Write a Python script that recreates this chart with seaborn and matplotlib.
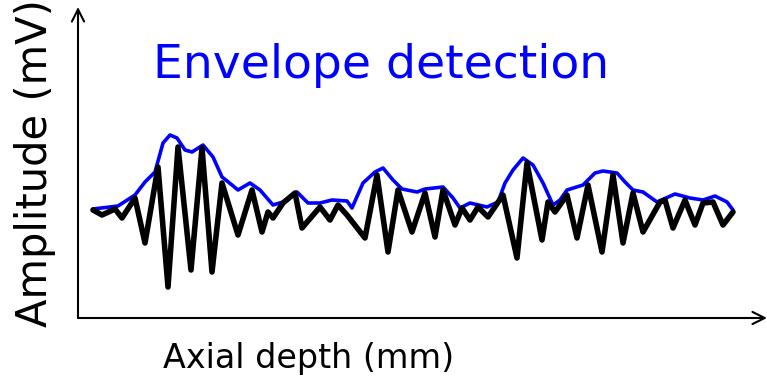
import numpy as np
import pandas as pd
import matplotlib
matplotlib.use("Agg")
import matplotlib.pyplot as plt
import seaborn as sns

# Depth (mm, arbitrary units) and amplitude (mV, arbitrary units)
signal_px_x = [93, 102, 115, 122, 135, 145, 158, 168, 178, 191, 202, 212, 222, 238, 252, 262, 268, 273,
               283, 295, 302, 320, 330, 338, 347, 365, 377, 388, 398, 412, 425, 435, 443, 455, 462, 470,
               478, 488, 503, 517, 527, 542, 548, 555, 567, 577, 588, 602, 613, 623, 633, 643, 660, 665,
               673, 685, 695, 703, 713, 723, 733]
signal_px_y = [210, 215, 209, 218, 198, 243, 167, 287, 147, 270, 148, 272, 183, 235, 190, 232, 212, 218,
               203, 193, 228, 207, 220, 205, 215, 238, 175, 252, 190, 232, 193, 237, 190, 225, 208, 220,
               207, 217, 195, 258, 163, 240, 202, 212, 195, 238, 185, 252, 175, 243, 193, 232, 202, 200,
               228, 200, 225, 203, 202, 225, 212]
env_px_x = [93, 118, 135, 145, 155, 163, 170, 177, 185, 192, 203, 213, 222, 232, 238, 250, 260, 273, 283,
            297, 308, 320, 332, 347, 352, 363, 375, 383, 393, 402, 417, 425, 443, 453, 460, 470, 487, 498,
            505, 513, 523, 533, 543, 553, 560, 567, 583, 595, 603, 617, 625, 633, 643, 657, 675, 690, 703,
            715, 727, 733]
env_px_y = [209, 206, 195, 182, 172, 143, 135, 138, 150, 152, 145, 157, 177, 185, 190, 183, 190, 205, 202,
            192, 203, 203, 200, 201, 208, 183, 172, 168, 180, 189, 192, 189, 187, 198, 208, 203, 207, 202,
            183, 170, 158, 165, 183, 205, 200, 190, 185, 173, 171, 173, 182, 190, 192, 202, 194, 198, 200,
            196, 202, 210]

depth_signal = [(v - 78) / 10 for v in signal_px_x]
amp_signal = [(318 - v) / 10 for v in signal_px_y]
depth_env = [(v - 78) / 10 for v in env_px_x]
amp_env = [(318 - v) / 10 for v in env_px_y]

title_text = "Envelope detection"
xlabel_text = "Axial depth (mm)"
ylabel_text = "Amplitude (mV)"

sns.set_style("white")
plt.rcParams['font.family'] = ['DejaVu Sans']

W, H = 767, 381
fig = plt.figure(figsize=(W / 100, H / 100), dpi=100)
ax = fig.add_axes([78 / W, 1 - 318 / H, (767 - 78) / W, (318 - 7) / H])
ax.set_xlim(0, (767 - 78) / 10)
ax.set_ylim(0, (318 - 7) / 10)

df_sig = pd.DataFrame({"depth": depth_signal, "amp": amp_signal})
df_env = pd.DataFrame({"depth": depth_env, "amp": amp_env})

sns.lineplot(data=df_env, x="depth", y="amp", ax=ax, color="#0000ff", lw=2.6,
             estimator=None, sort=False, zorder=2)
sns.lineplot(data=df_sig, x="depth", y="amp", ax=ax, color="black", lw=4.0,
             estimator=None, sort=False, zorder=3, solid_joinstyle="round")

for s in ax.spines.values():
    s.set_visible(False)
ax.set_xticks([])
ax.set_yticks([])
ax.set_xlabel("")
ax.set_ylabel("")
ax.patch.set_alpha(0)

ax.annotate("", xy=(1, 0), xytext=(0, 0), xycoords="axes fraction",
            arrowprops=dict(arrowstyle="->", lw=1.5, color="black", shrinkA=0, shrinkB=0,
                            mutation_scale=22), annotation_clip=False)
ax.annotate("", xy=(0, 1), xytext=(0, 0), xycoords="axes fraction",
            arrowprops=dict(arrowstyle="->", lw=1.5, color="black", shrinkA=0, shrinkB=0,
                            mutation_scale=22), annotation_clip=False)

fig.text(381 / W, 1 - 78 / H, title_text, color="#0000ff", fontsize=34,
         ha="center", va="baseline")
fig.text(309 / W, 1 - 368 / H, xlabel_text, color="black", fontsize=24,
         ha="center", va="baseline")
fig.text(35 / W, 1 - 163 / H, ylabel_text, color="black", fontsize=30,
         ha="center", va="center", rotation=90)

fig.savefig("out.png", dpi=100)
